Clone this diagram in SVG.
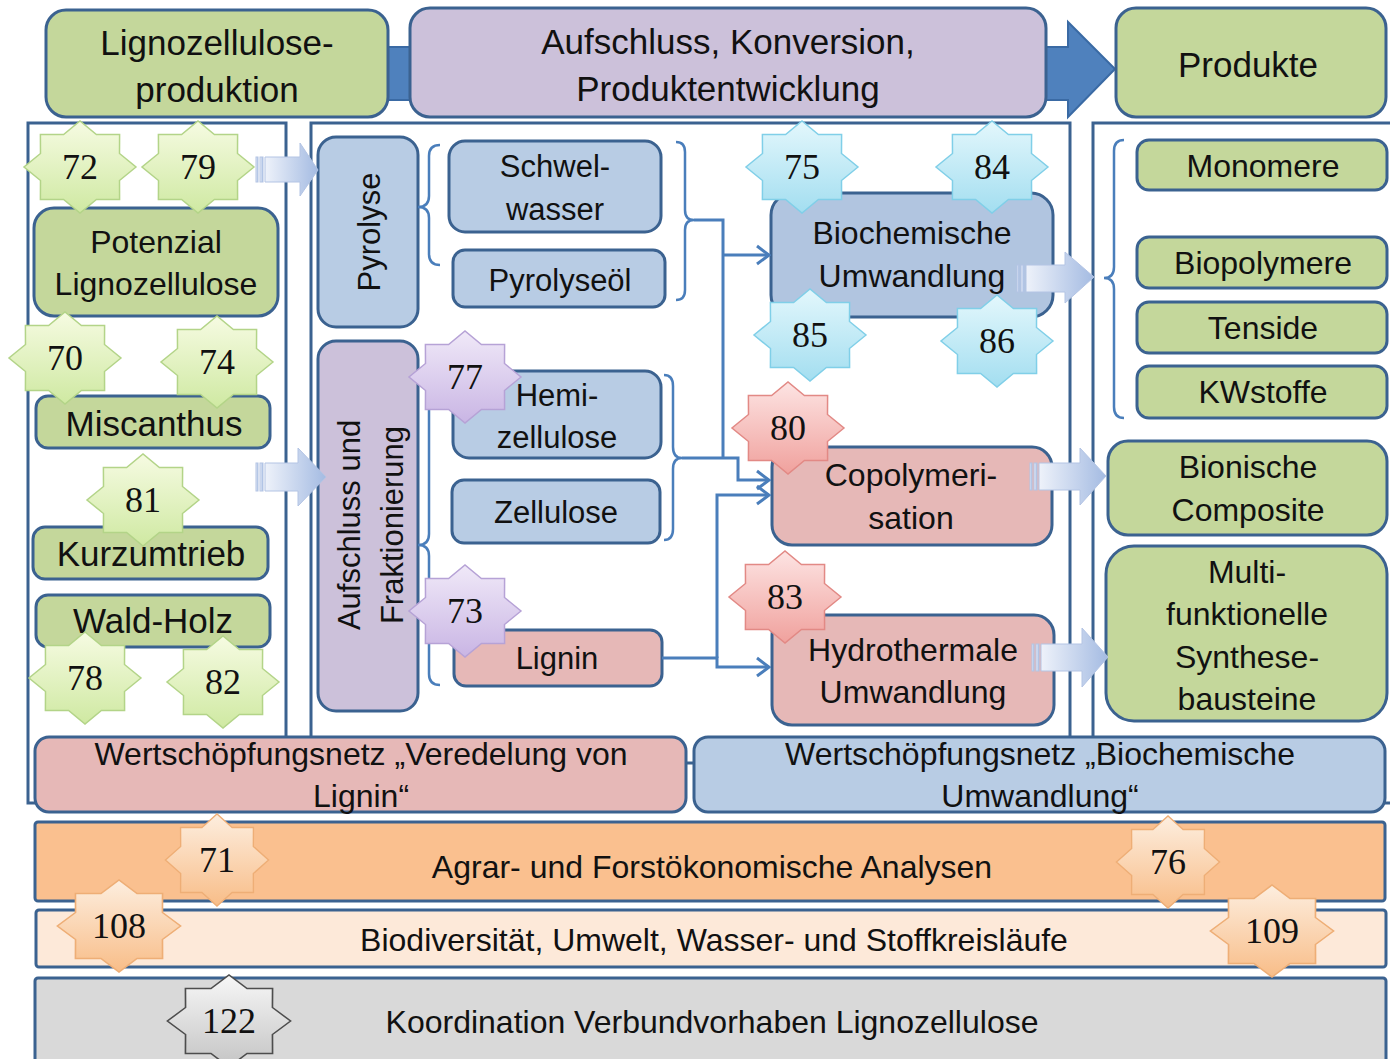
<svg xmlns="http://www.w3.org/2000/svg" xmlns:xlink="http://www.w3.org/1999/xlink" width="1390" height="1059" viewBox="0 0 1390 1059">
<style>
.box{stroke:#3b6290;stroke-width:3}
.g{fill:#c4d79b}.p{fill:#ccc1da}.b{fill:#b8cce4}.bb{fill:#b1c5e0}.r{fill:#e6b8b7}
.o{fill:#fac08f}.lo{fill:#fde9d9}.gr{fill:#d9d9d9}
.frame{fill:none;stroke:#3b6290;stroke-width:3}
.t{font-family:"Liberation Sans",Arial,sans-serif;font-size:32px;fill:#111;text-anchor:middle;dominant-baseline:central}
.h{font-size:35px}
.s31{font-size:31px}
.n{font-family:"Liberation Serif","Times New Roman",serif;font-size:36px;fill:#111;text-anchor:middle;dominant-baseline:central}
.con{fill:none;stroke:#4a7ebb;stroke-width:3}
.br{fill:none;stroke:#4a7ebb;stroke-width:2.5}
.sg{fill:url(#gG);stroke:#b3d488;stroke-width:1.5}
.sb{fill:url(#gB);stroke:#80cfe8;stroke-width:1.5}
.sp{fill:url(#gP);stroke:#b6a2d6;stroke-width:1.5}
.sr{fill:url(#gR);stroke:#e28985;stroke-width:1.5}
.so{fill:url(#gO);stroke:#eeae76;stroke-width:1.5}
.sy{fill:url(#gY);stroke:#4d4d4d;stroke-width:1.5}
.blk{fill:url(#gA);stroke:#b3c4e4;stroke-width:1}
</style>
<defs>
<linearGradient id="gG" x1="0" y1="0" x2="0" y2="1"><stop offset="0" stop-color="#f6fbe2"/><stop offset="1" stop-color="#cfe9a2"/></linearGradient>
<linearGradient id="gB" x1="0" y1="0" x2="0" y2="1"><stop offset="0" stop-color="#e3f7fc"/><stop offset="1" stop-color="#a3def0"/></linearGradient>
<linearGradient id="gP" x1="0" y1="0" x2="0" y2="1"><stop offset="0" stop-color="#f0e9f8"/><stop offset="1" stop-color="#c9b5e4"/></linearGradient>
<linearGradient id="gR" x1="0" y1="0" x2="0" y2="1"><stop offset="0" stop-color="#fde4e3"/><stop offset="1" stop-color="#f0a19d"/></linearGradient>
<linearGradient id="gO" x1="0" y1="0" x2="0" y2="1"><stop offset="0" stop-color="#fdeedf"/><stop offset="1" stop-color="#f8bd88"/></linearGradient>
<linearGradient id="gY" x1="0" y1="0" x2="0" y2="1"><stop offset="0" stop-color="#f7f7f7"/><stop offset="1" stop-color="#c4c4c4"/></linearGradient>
<linearGradient id="gA" x1="0" y1="0" x2="1" y2="0"><stop offset="0" stop-color="#eef2fa"/><stop offset="1" stop-color="#a4bbe2"/></linearGradient>
<polygon id="star" points="56,0 39.5,13.5 39.6,32.5 16.4,32.5 0,46 -16.4,32.5 -39.6,32.5 -39.5,13.5 -56,0 -39.5,-13.5 -39.6,-32.5 -16.4,-32.5 0,-46 16.4,-32.5 39.6,-32.5 39.5,-13.5"/>
<marker id="ah" viewBox="0 0 16 22" refX="14" refY="11" markerWidth="16" markerHeight="22" markerUnits="userSpaceOnUse" orient="auto">
<path d="M2,2 L14,11 L2,20" fill="none" stroke="#4a7ebb" stroke-width="3"/>
</marker>
</defs>
<rect width="1390" height="1059" fill="#ffffff"/>

<!-- frames -->
<g id="frames">
<rect class="frame" x="28" y="123" width="258" height="680"/>
<rect class="frame" x="311" y="123" width="759" height="640"/>
<rect class="frame" x="1093" y="123" width="300" height="680"/>
</g>

<!-- header -->
<g id="header-arrow"><path d="M370,47 H1068 V22 L1115,69 L1068,117 V100 H370 Z" fill="#4f81bd" stroke="#3a6aa4" stroke-width="2"/></g>
<g id="lignozelluloseproduktion"><rect class="box g" x="46" y="10" width="342" height="107" rx="20"/><text class="t h" x="217" y="42">Lignozellulose-</text><text class="t h" x="217" y="89">produktion</text></g>
<g id="aufschluss-konversion"><rect class="box p" x="410" y="8" width="636" height="109" rx="20"/><text class="t h" x="728" y="41">Aufschluss, Konversion,</text><text class="t h" x="728" y="88">Produktentwicklung</text></g>
<g id="produkte"><rect class="box g" x="1116" y="8" width="270" height="109" rx="20"/><text class="t h" x="1248" y="64">Produkte</text></g>

<!-- left column -->
<g id="potenzial"><rect class="box g" x="34" y="208" width="244" height="108" rx="20"/><text class="t" x="156" y="242">Potenzial</text><text class="t" x="156" y="284">Lignozellulose</text></g>
<g id="miscanthus"><rect class="box g" x="36" y="396" width="234" height="52" rx="12"/><text class="t h" x="154" y="423">Miscanthus</text></g>
<g id="kurzumtrieb"><rect class="box g" x="33" y="527" width="235" height="52" rx="12"/><text class="t h" x="151" y="553">Kurzumtrieb</text></g>
<g id="wald-holz"><rect class="box g" x="36" y="595" width="234" height="52" rx="12"/><text class="t h" x="153" y="620">Wald-Holz</text></g>

<!-- middle column -->
<g id="pyrolyse"><rect class="box b" x="318" y="137" width="100" height="190" rx="18"/><text class="t s31" transform="translate(369,232) rotate(-90)">Pyrolyse</text></g>
<g id="aufschluss-fraktionierung"><rect class="box p" x="318" y="341" width="100" height="370" rx="18"/><text class="t s31" transform="translate(349,525) rotate(-90)">Aufschluss und</text><text class="t s31" transform="translate(392,525) rotate(-90)">Fraktionierung</text></g>
<g id="schwelwasser"><rect class="box b" x="449" y="141" width="212" height="91" rx="16"/><text class="t s31" x="555" y="166">Schwel-</text><text class="t s31" x="555" y="209">wasser</text></g>
<g id="pyrolyseoel"><rect class="box b" x="453" y="250" width="212" height="57" rx="12"/><text class="t s31" x="560" y="280">Pyrolyseöl</text></g>
<g id="hemizellulose"><rect class="box b" x="453" y="371" width="208" height="87" rx="16"/><text class="t s31" x="557" y="395">Hemi-</text><text class="t s31" x="557" y="437">zellulose</text></g>
<g id="zellulose"><rect class="box b" x="452" y="480" width="208" height="63" rx="12"/><text class="t s31" x="556" y="512">Zellulose</text></g>
<g id="lignin"><rect class="box r" x="454" y="630" width="208" height="56" rx="12"/><text class="t s31" x="557" y="658">Lignin</text></g>
<g id="biochemische-umwandlung"><rect class="box bb" x="771" y="193" width="282" height="124" rx="22"/><text class="t" x="912" y="233">Biochemische</text><text class="t" x="912" y="276">Umwandlung</text></g>
<g id="copolymerisation"><rect class="box r" x="772" y="447" width="280" height="98" rx="20"/><text class="t" x="911" y="475">Copolymeri-</text><text class="t" x="911" y="518">sation</text></g>
<g id="hydrothermale-umwandlung"><rect class="box r" x="772" y="615" width="282" height="110" rx="20"/><text class="t" x="913" y="650">Hydrothermale</text><text class="t" x="913" y="692">Umwandlung</text></g>

<!-- right column -->
<g id="monomere"><rect class="box g" x="1137" y="140" width="250" height="50" rx="12"/><text class="t" x="1263" y="166">Monomere</text></g>
<g id="biopolymere"><rect class="box g" x="1137" y="237" width="250" height="51" rx="12"/><text class="t" x="1263" y="263">Biopolymere</text></g>
<g id="tenside"><rect class="box g" x="1137" y="302" width="250" height="51" rx="12"/><text class="t" x="1263" y="328">Tenside</text></g>
<g id="kwstoffe"><rect class="box g" x="1137" y="366" width="250" height="52" rx="12"/><text class="t" x="1263" y="392">KWstoffe</text></g>
<g id="bionische-composite"><rect class="box g" x="1108" y="441" width="279" height="94" rx="20"/><text class="t" x="1248" y="467">Bionische</text><text class="t" x="1248" y="510">Composite</text></g>
<g id="synthesebausteine"><rect class="box g" x="1106" y="546" width="281" height="175" rx="28"/><text class="t" x="1247" y="572">Multi-</text><text class="t" x="1247" y="614">funktionelle</text><text class="t" x="1247" y="657">Synthese-</text><text class="t" x="1247" y="699">bausteine</text></g>

<!-- value networks and bars -->
<g id="wsn-lignin"><rect class="box r" x="35" y="737" width="651" height="75" rx="14"/><text class="t" x="361" y="754">Wertschöpfungsnetz „Veredelung von</text><text class="t" x="361" y="796">Lignin“</text></g>
<g id="wsn-biochemisch"><rect class="box b" x="694" y="737" width="691" height="75" rx="14"/><text class="t" x="1040" y="754">Wertschöpfungsnetz „Biochemische</text><text class="t" x="1040" y="796">Umwandlung“</text></g>
<g id="agrar"><rect class="box o" x="35" y="822" width="1350" height="79" rx="3"/><text class="t" x="712" y="867">Agrar- und Forstökonomische Analysen</text></g>
<g id="biodiversitaet"><rect class="box lo" x="36" y="910" width="1350" height="57" rx="3"/><text class="t" x="714" y="940">Biodiversität, Umwelt, Wasser- und Stoffkreisläufe</text></g>
<g id="koordination"><rect class="box gr" x="35" y="978" width="1351" height="90" rx="3"/><text class="t" x="712" y="1022">Koordination Verbundvorhaben Lignozellulose</text></g>

<!-- connectors -->
<g id="connectors">
<path class="br" d="M440,145 Q429,145 429,156 L429,196 Q429,207 418,207 Q429,207 429,218 L429,254 Q429,265 440,265"/>
<path class="br" d="M676,142 Q685,142 685,152 L685,210 Q685,220 694,220 Q685,220 685,230 L685,290 Q685,300 676,300"/>
<path class="br" d="M440,380 Q429,380 429,391 L429,534 Q429,545 418,545 Q429,545 429,556 L429,674 Q429,685 440,685"/>
<path class="br" d="M664,375 Q673,375 673,386 L673,447 Q673,458 682,458 Q673,458 673,469 L673,529 Q673,540 664,540"/>
<path class="br" d="M1124,140 Q1114,140 1114,151 L1114,267 Q1114,278 1104,278 Q1114,278 1114,289 L1114,407 Q1114,418 1124,418"/>
<path class="con" d="M694,220 H723 V458"/>
<path class="con" d="M723,255 H769" marker-end="url(#ah)"/>
<path class="con" d="M682,458 H738 V480 H769" marker-end="url(#ah)"/>
<path class="con" d="M662,658 H717 V667 H769" marker-end="url(#ah)"/>
<path class="con" d="M717,658 V495 H769" marker-end="url(#ah)"/>
<!-- block arrows -->
<g id="arrow-left-top"><rect class="blk" x="256" y="157" width="2" height="25"/><rect class="blk" x="260" y="157" width="3" height="25"/><path class="blk" d="M265,157 H300 V143 L318,170 L300,196 V182 H265 Z"/></g>
<g id="arrow-left-mid"><rect class="blk" x="256" y="463" width="2" height="28"/><rect class="blk" x="260" y="463" width="3" height="28"/><path class="blk" d="M265,463 H298 V448 L326,477 L298,506 V491 H265 Z"/></g>
<g id="arrow-biochem"><rect class="blk" x="1017" y="265" width="2" height="27"/><rect class="blk" x="1021" y="265" width="3" height="27"/><path class="blk" d="M1026,265 H1065 V252 L1094,277 L1065,303 V292 H1026 Z"/></g>
<g id="arrow-copoly"><rect class="blk" x="1030" y="463" width="2" height="27"/><rect class="blk" x="1034" y="463" width="3" height="27"/><path class="blk" d="M1039,463 H1080 V448 L1106,476 L1080,505 V490 H1039 Z"/></g>
<g id="arrow-hydro"><rect class="blk" x="1032" y="644" width="2" height="27"/><rect class="blk" x="1036" y="644" width="3" height="27"/><path class="blk" d="M1041,644 H1082 V628 L1108,657 L1082,687 V671 H1041 Z"/></g>
</g>

<!-- project stars -->
<g id="star-72"><use href="#star" class="sg" transform="translate(80,167)"/><text class="n" x="80" y="167">72</text></g>
<g id="star-79"><use href="#star" class="sg" transform="translate(198,167)"/><text class="n" x="198" y="167">79</text></g>
<g id="star-70"><use href="#star" class="sg" transform="translate(65,358)"/><text class="n" x="65" y="358">70</text></g>
<g id="star-74"><use href="#star" class="sg" transform="translate(217,362)"/><text class="n" x="217" y="362">74</text></g>
<g id="star-81"><use href="#star" class="sg" transform="translate(143,500)"/><text class="n" x="143" y="500">81</text></g>
<g id="star-78"><use href="#star" class="sg" transform="translate(85,678)"/><text class="n" x="85" y="678">78</text></g>
<g id="star-82"><use href="#star" class="sg" transform="translate(223,682)"/><text class="n" x="223" y="682">82</text></g>
<g id="star-75"><use href="#star" class="sb" transform="translate(802,167)"/><text class="n" x="802" y="167">75</text></g>
<g id="star-84"><use href="#star" class="sb" transform="translate(992,167)"/><text class="n" x="992" y="167">84</text></g>
<g id="star-85"><use href="#star" class="sb" transform="translate(810,335)"/><text class="n" x="810" y="335">85</text></g>
<g id="star-86"><use href="#star" class="sb" transform="translate(997,341)"/><text class="n" x="997" y="341">86</text></g>
<g id="star-77"><use href="#star" class="sp" transform="translate(465,377)"/><text class="n" x="465" y="377">77</text></g>
<g id="star-73"><use href="#star" class="sp" transform="translate(465,611)"/><text class="n" x="465" y="611">73</text></g>
<g id="star-80"><use href="#star" class="sr" transform="translate(788,428)"/><text class="n" x="788" y="428">80</text></g>
<g id="star-83"><use href="#star" class="sr" transform="translate(785,597)"/><text class="n" x="785" y="597">83</text></g>
<g id="star-71"><use href="#star" class="so" transform="translate(217,860) scale(0.92,1)"/><text class="n" x="217" y="860">71</text></g>
<g id="star-76"><use href="#star" class="so" transform="translate(1168,862) scale(0.92,1)"/><text class="n" x="1168" y="862">76</text></g>
<g id="star-108"><use href="#star" class="so" transform="translate(119,926) scale(1.1,1)"/><text class="n" x="119" y="926">108</text></g>
<g id="star-109"><use href="#star" class="so" transform="translate(1272,931) scale(1.1,1)"/><text class="n" x="1272" y="931">109</text></g>
<g id="star-122"><use href="#star" class="sy" transform="translate(229,1021) scale(1.1,1)"/><text class="n" x="229" y="1021">122</text></g>
</svg>
